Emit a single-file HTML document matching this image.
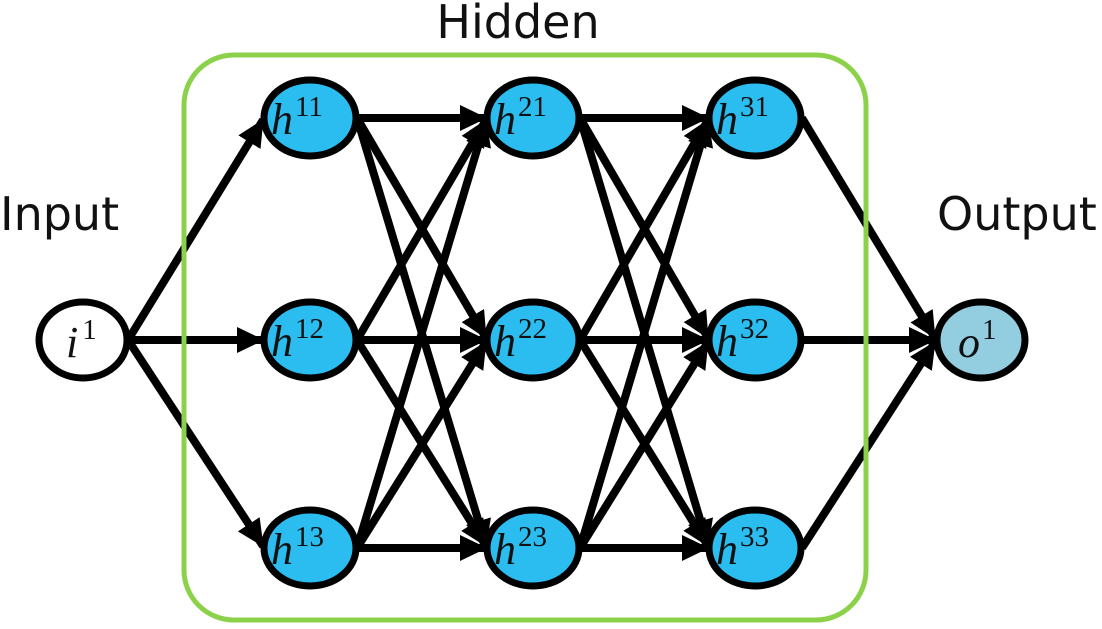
<!DOCTYPE html>
<html><head><meta charset="utf-8"><style>
html,body{margin:0;padding:0;background:#fff;}
svg{display:block;}
.t{font-family:"DejaVu Sans","Liberation Sans",sans-serif;font-size:46px;fill:#111;}
.m{font-family:"Liberation Serif",serif;font-style:italic;font-size:44px;fill:#111;}
.s{font-family:"Liberation Serif",serif;font-size:29px;fill:#111;}
</style></head><body>
<svg width="1102" height="629" viewBox="0 0 1102 629" xmlns="http://www.w3.org/2000/svg">
<defs>
<marker id="a" markerUnits="userSpaceOnUse" markerWidth="30" markerHeight="30" refX="26" refY="13" orient="auto">
<path d="M0,0 L27,13 L0,26 Z" fill="#000"/>
</marker>
</defs>
<g stroke="#000" stroke-width="8" marker-end="url(#a)">
<line x1="128" y1="340" x2="263" y2="120"/>
<line x1="128" y1="340" x2="263" y2="340"/>
<line x1="128" y1="340" x2="263" y2="546"/>
<line x1="357" y1="118" x2="486" y2="118"/>
<line x1="357" y1="118" x2="486" y2="338"/>
<line x1="357" y1="118" x2="486" y2="546"/>
<line x1="357" y1="340" x2="486" y2="120"/>
<line x1="357" y1="340" x2="486" y2="340"/>
<line x1="357" y1="340" x2="486" y2="546"/>
<line x1="357" y1="548" x2="486" y2="120"/>
<line x1="357" y1="548" x2="486" y2="342"/>
<line x1="357" y1="548" x2="486" y2="548"/>
<line x1="580" y1="118" x2="708" y2="118"/>
<line x1="580" y1="118" x2="708" y2="338"/>
<line x1="580" y1="118" x2="708" y2="546"/>
<line x1="580" y1="340" x2="708" y2="120"/>
<line x1="580" y1="340" x2="708" y2="340"/>
<line x1="580" y1="340" x2="708" y2="546"/>
<line x1="580" y1="548" x2="708" y2="120"/>
<line x1="580" y1="548" x2="708" y2="342"/>
<line x1="580" y1="548" x2="708" y2="548"/>
<line x1="802" y1="118" x2="935" y2="338"/>
<line x1="802" y1="340" x2="935" y2="340"/>
<line x1="802" y1="548" x2="935" y2="342"/>
</g>
<rect x="184" y="55" width="682" height="565" rx="50" ry="50" fill="none" stroke="#8cd14a" stroke-width="5"/>
<g stroke="#000" stroke-width="7">
<ellipse cx="83" cy="340" rx="44" ry="38" fill="#fff"/>
<ellipse cx="310" cy="118" rx="46" ry="38" fill="#2bbdf0"/>
<ellipse cx="310" cy="340" rx="46" ry="38" fill="#2bbdf0"/>
<ellipse cx="310" cy="548" rx="46" ry="38" fill="#2bbdf0"/>
<ellipse cx="533" cy="118" rx="46" ry="38" fill="#2bbdf0"/>
<ellipse cx="533" cy="340" rx="46" ry="38" fill="#2bbdf0"/>
<ellipse cx="533" cy="548" rx="46" ry="38" fill="#2bbdf0"/>
<ellipse cx="755" cy="118" rx="46" ry="38" fill="#2bbdf0"/>
<ellipse cx="755" cy="340" rx="46" ry="38" fill="#2bbdf0"/>
<ellipse cx="755" cy="548" rx="46" ry="38" fill="#2bbdf0"/>
<ellipse cx="981" cy="340" rx="44" ry="38" fill="#92cde0"/>
</g>
<text class="t" x="518" y="38" text-anchor="middle">Hidden</text>
<text class="t" x="0" y="230">Input</text>
<text class="t" x="937" y="230">Output</text>
<text x="66" y="357"><tspan class="m">i</tspan><tspan class="s" dx="4" dy="-18">1</tspan></text>
<text x="958" y="357"><tspan class="m">o</tspan><tspan class="s" dx="2" dy="-18">1</tspan></text>
<text x="271" y="134"><tspan class="m">h</tspan><tspan class="s" dx="2" dy="-18">11</tspan></text>
<text x="271" y="356"><tspan class="m">h</tspan><tspan class="s" dx="2" dy="-18">12</tspan></text>
<text x="271" y="564"><tspan class="m">h</tspan><tspan class="s" dx="2" dy="-18">13</tspan></text>
<text x="494" y="134"><tspan class="m">h</tspan><tspan class="s" dx="2" dy="-18">21</tspan></text>
<text x="494" y="356"><tspan class="m">h</tspan><tspan class="s" dx="2" dy="-18">22</tspan></text>
<text x="494" y="564"><tspan class="m">h</tspan><tspan class="s" dx="2" dy="-18">23</tspan></text>
<text x="716" y="134"><tspan class="m">h</tspan><tspan class="s" dx="2" dy="-18">31</tspan></text>
<text x="716" y="356"><tspan class="m">h</tspan><tspan class="s" dx="2" dy="-18">32</tspan></text>
<text x="716" y="564"><tspan class="m">h</tspan><tspan class="s" dx="2" dy="-18">33</tspan></text>
</svg>
</body></html>
